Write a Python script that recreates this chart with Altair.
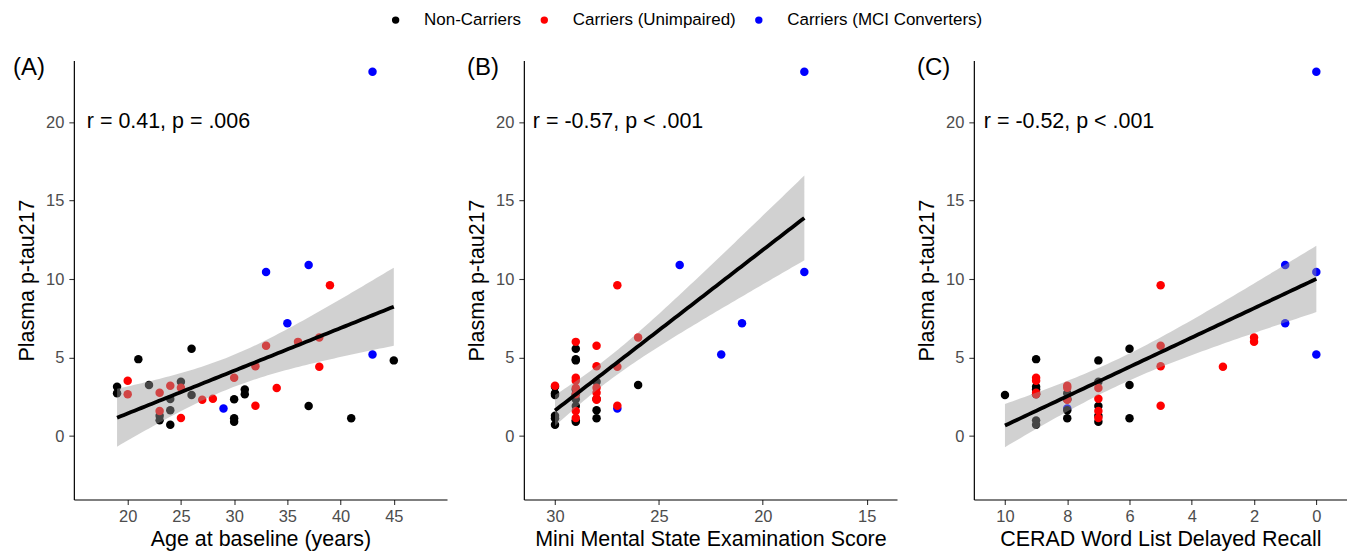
import altair as alt
import pandas as pd
import numpy as np

FONT = "Liberation Sans"
GROUPS = ["Non-Carriers", "Carriers (Unimpaired)", "Carriers (MCI Converters)"]
COLORS = ["#000000", "#FF0000", "#0000FF"]

# ---- subjects ----
# Carriers (MCI Converters)
MCI_PTAU = [1.76, 10.45, 7.18, 10.9, 5.2, 23.2]
MCI_AGE = [29, 33, 35, 37, 43, 43]
MCI_MMSE = [27, 18, 21, 24, 22, 18]
MCI_CERAD = [8, 0, 1, 1, 0, 0]

# Non-Carriers
NC_PTAU = [3.14, 2.72, 4.9, 3.25, 1.3, 1.0, 2.36, 1.64, 0.72, 3.46,
           5.56, 2.61, 2.34, 1.13, 0.91, 2.97, 2.67, 1.91, 1.13, 4.82]
NC_AGE = [19, 19, 21, 22, 23, 23, 24, 24, 24, 25,
          26, 26, 30, 30, 30, 31, 31, 37, 41, 45]
NC_MMSE = [30, 30, 29, 26, 30, 29, 28, 28, 30, 28,
           29, 30, 29, 30, 29, 29, 29, 29, 28, 29]
NC_CERAD = [9, 8, 9, 6, 7, 9, 8, 8, 9, 7,
            6, 10, 8, 8, 7, 9, 9, 7, 6, 7]

# Carriers (Unimpaired)
CU_PTAU = [3.52, 2.66, 2.76, 1.6, 3.2, 3.08, 1.15, 2.31, 2.38, 3.71,
           4.44, 1.93, 5.75, 3.06, 6.0, 6.28, 4.41, 9.6]
CU_AGE = [20, 20, 23, 23, 24, 25, 25, 27, 28, 30,
          32, 32, 33, 34, 36, 38, 38, 39]
CU_MMSE = [29, 29, 28, 29, 30, 28, 29, 28, 28, 29,
           28, 27, 28, 29, 29, 26, 27, 27]
CU_CERAD = [9, 9, 9, 7, 8, 8, 7, 8, 7, 9,
            5, 5, 5, 7, 2, 2, 3, 5]

STATS = ["r = 0.41, p = .006", "r = -0.57, p < .001", "r = -0.52, p < .001"]
TAGS = ["(A)", "(B)", "(C)"]
XTITLES = ["Age at baseline (years)", "Mini Mental State Examination Score",
           "CERAD Word List Delayed Recall"]
XTICKS = [[20, 25, 30, 35, 40, 45], [30, 25, 20, 15], [10, 8, 6, 4, 2, 0]]
YTICKS = [0, 5, 10, 15, 20]

frames = []
for g, p, a, m, c in [(GROUPS[2], MCI_PTAU, MCI_AGE, MCI_MMSE, MCI_CERAD),
                      (GROUPS[0], NC_PTAU, NC_AGE, NC_MMSE, NC_CERAD),
                      (GROUPS[1], CU_PTAU, CU_AGE, CU_MMSE, CU_CERAD)]:
    frames.append(pd.DataFrame({"group": g, "ptau": p, "age": a, "mmse": m, "cerad": c}))
df = pd.concat(frames, ignore_index=True)

T_CRIT = 2.018  # t(0.975, df=42)


def band(field):
    x = df[field].to_numpy(float)
    y = df["ptau"].to_numpy(float)
    n = len(x)
    b, a0 = np.polyfit(x, y, 1)
    resid = y - (a0 + b * x)
    s = np.sqrt(np.sum(resid ** 2) / (n - 2))
    sxx = np.sum((x - x.mean()) ** 2)
    grid = np.linspace(x.min(), x.max(), 80)
    fit = a0 + b * grid
    se = s * np.sqrt(1.0 / n + (grid - x.mean()) ** 2 / sxx)
    return pd.DataFrame({field: grid, "fit": fit, "lo": fit - T_CRIT * se, "hi": fit + T_CRIT * se})


YDOM = [-4.04, 23.92]
PANELS = [
    ("age", [14.94, 50.0], False, 13, -61),
    ("mmse", [13.54, 31.5], True, 9, -57),
    ("cerad", [-0.985, 11.0], True, 10, -57),
]


def panel(i):
    field, dom, rev, tdx, tagdx = PANELS[i]
    xs = alt.Scale(domain=dom, nice=False, zero=False, reverse=rev)
    ys = alt.Scale(domain=YDOM, nice=False, zero=False)
    xax = alt.Axis(values=XTICKS[i], title=XTITLES[i])
    yax = alt.Axis(values=YTICKS, title="Plasma p-tau217")

    pts = alt.Chart(df).mark_circle(size=72, opacity=1).encode(
        x=alt.X(f"{field}:Q", scale=xs, axis=xax),
        y=alt.Y("ptau:Q", scale=ys, axis=yax),
        color=alt.Color("group:N", scale=alt.Scale(domain=GROUPS, range=COLORS),
                        legend=alt.Legend(title=None, orient="none", direction="horizontal",
                                          legendX=314, legendY=-49, symbolType="circle",
                                          symbolSize=55, labelFontSize=17, labelFont=FONT,
                                          labelColor="black", labelOffset=20, columnPadding=14,
                                          gridAlign="none",
                                          labelLimit=0, symbolStrokeWidth=0)),
    )
    bd = band(field)
    area = alt.Chart(bd).mark_area(color="#999999", opacity=0.45).encode(
        x=alt.X(f"{field}:Q", scale=xs, axis=xax),
        y=alt.Y("lo:Q", scale=ys, axis=yax),
        y2="hi:Q",
    )
    line = alt.Chart(bd).mark_line(color="black", strokeWidth=3.8).encode(
        x=alt.X(f"{field}:Q", scale=xs, axis=xax),
        y=alt.Y("fit:Q", scale=ys, axis=yax),
    )
    stat = alt.Chart(pd.DataFrame({"t": [STATS[i]]})).mark_text(
        align="left", baseline="middle", fontSize=21.5, font=FONT, color="black"
    ).encode(x=alt.value(tdx), y=alt.datum(20), text="t:N")
    tag = alt.Chart(pd.DataFrame({"t": [TAGS[i]]})).mark_text(
        align="left", baseline="middle", fontSize=24, font=FONT, color="black"
    ).encode(x=alt.value(tagdx), y=alt.value(8), text="t:N")
    return alt.layer(pts, area, line, stat, tag).properties(width=374, height=440)


chart = alt.hconcat(panel(0), panel(1), panel(2), spacing=77, bounds="flush").properties(
    padding={"left": 5, "top": 3, "right": 0, "bottom": 0}
).configure_view(stroke=None).configure_axis(
    grid=False, domainColor="black", domainWidth=1.2, tickColor="#333333", tickSize=5,
    tickWidth=1.1, labelColor="#4D4D4D", labelFontSize=16.5, labelFont=FONT,
    titleFont=FONT, titleFontSize=21.5, titleFontWeight="normal", titleColor="black",
).configure_axisX(labelPadding=4, titlePadding=4).configure_axisY(labelPadding=5, titlePadding=7)

chart.save("out.html", embed_options={"renderer": "svg", "actions": False})
